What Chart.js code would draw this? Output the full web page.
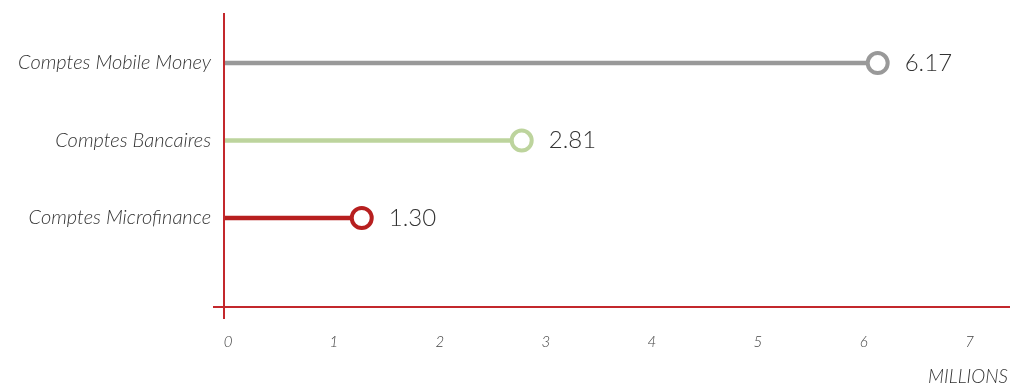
<!DOCTYPE html>
<html>
<head>
<meta charset="utf-8">
<style>
  html, body { margin: 0; padding: 0; background: #fff; }
</style>
<script src="https://cdn.jsdelivr.net/npm/chart.js@4.4.0/dist/chart.umd.min.js"></script>
</head>
<body>
<canvas id="accountsChart" width="1030" height="386"></canvas>
<script>
const categories = ["Comptes Mobile Money", "Comptes Bancaires", "Comptes Microfinance"];
const accountValues = [6.17, 2.81, 1.30];
const xTickValues = [0, 1, 2, 3, 4, 5, 6, 7];
const seriesColors = ["#999999", "#bdd49d", "#b71f1f"];
const axisColor = "#c3282c";
const textColor = "#333333";
const fontFamily = "Lato, 'Open Sans', sans-serif";

const points = accountValues.map((v, i) => ({ x: v, y: i }));

// red axis lines, the x line pokes out left of the y line and vice versa
const axisLines = {
  id: "axisLines",
  afterDatasetsDraw(chart) {
    const { ctx, chartArea: a } = chart;
    const x0 = chart.scales.x.getPixelForValue(0);
    ctx.save();
    ctx.strokeStyle = axisColor;
    ctx.lineWidth = 2;
    ctx.beginPath();
    ctx.moveTo(x0, a.top - 4);
    ctx.lineTo(x0, a.bottom + 12);
    ctx.moveTo(x0 - 11, a.bottom);
    ctx.lineTo(a.right + 2, a.bottom);
    ctx.stroke();
    ctx.restore();
  },
};

const valueLabels = {
  id: "valueLabels",
  afterDatasetsDraw(chart) {
    const { ctx } = chart;
    const meta = chart.getDatasetMeta(1);
    ctx.save();
    ctx.fillStyle = textColor;
    ctx.font = "300 24px " + fontFamily;
    ctx.textAlign = "left";
    ctx.textBaseline = "middle";
    meta.data.forEach((pt, i) => {
      ctx.fillText(accountValues[i].toFixed(2), pt.x + 27, pt.y);
    });
    ctx.restore();
  },
};

const ctx = document.getElementById("accountsChart").getContext("2d");

const AccountsChart = new Chart(ctx, {
  data: {
    datasets: [
      {
        type: "bar",
        data: points,
        backgroundColor: seriesColors,
        borderWidth: 0,
        barThickness: 4,
        order: 2,
      },
      {
        type: "line",
        data: points,
        showLine: false,
        pointRadius: 10,
        pointHoverRadius: 10,
        pointBorderWidth: 4,
        pointBackgroundColor: "#ffffff",
        pointBorderColor: seriesColors,
        order: 1,
      },
    ],
  },
  options: {
    indexAxis: "y",
    responsive: false,
    animation: false,
    layout: {
      autoPadding: false,
      padding: { top: 13, right: 22, left: 0, bottom: 0 },
    },
    plugins: {
      legend: { display: false },
      tooltip: { enabled: false },
    },
    scales: {
      x: {
        type: "linear",
        min: 0,
        max: 7.4,
        grid: { display: false },
        border: { display: false },
        afterBuildTicks: (scale) => {
          scale.ticks = xTickValues.map((v) => ({ value: v }));
        },
        afterFit: (scale) => {
          scale.height = 79;
        },
        ticks: {
          padding: 18,
          labelOffset: 4,
          color: "#444444",
          font: { family: fontFamily, size: 15, style: "italic", weight: 300 },
        },
        title: {
          display: true,
          text: "MILLIONS",
          align: "end",
          color: textColor,
          padding: { top: 0, bottom: 0 },
          font: { family: fontFamily, size: 19, style: "italic", weight: 300, lineHeight: 1 },
        },
      },
      y: {
        type: "linear",
        reverse: true,
        offset: false,
        min: -0.594,
        max: 3.148,
        grid: { display: false },
        border: { display: false },
        afterBuildTicks: (scale) => {
          scale.ticks = categories.map((c, i) => ({ value: i }));
        },
        afterFit: (scale) => {
          scale.width = 224;
        },
        ticks: {
          padding: 5,
          color: textColor,
          font: { family: fontFamily, size: 20, style: "italic", weight: 300 },
          callback: (v) => categories[v],
        },
      },
    },
  },
  plugins: [axisLines, valueLabels],
});
</script>
</body>
</html>
